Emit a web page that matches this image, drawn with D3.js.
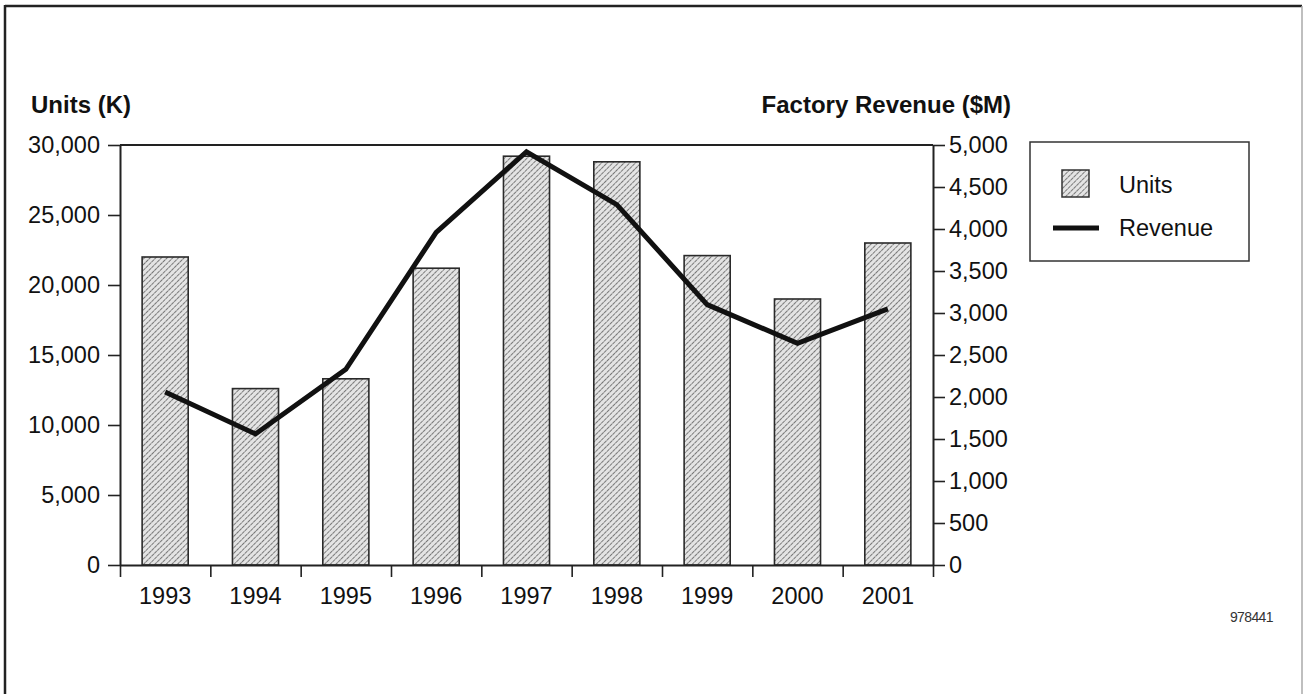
<!DOCTYPE html>
<html>
<head>
<meta charset="utf-8">
<script src="https://cdn.jsdelivr.net/npm/d3@7"></script>
<style>
  html, body { margin: 0; padding: 0; background: #fff; }
  svg { display: block; font-family: "Liberation Sans", Arial, Helvetica, sans-serif; }
</style>
</head>
<body>
<svg id="chart" width="1304" height="694"></svg>
<script>
const years = ["1993","1994","1995","1996","1997","1998","1999","2000","2001"];
const units = [22000, 12600, 13300, 21200, 29200, 28800, 22100, 19000, 23000];
const revenue = [2060, 1560, 2330, 3960, 4920, 4290, 3100, 2640, 3050];
const unitTicks = [0, 5000, 10000, 15000, 20000, 25000, 30000];
const revenueTicks = [0, 500, 1000, 1500, 2000, 2500, 3000, 3500, 4000, 4500, 5000];
const leftTitle = "Units (K)";
const rightTitle = "Factory Revenue ($M)";
const legendLabels = ["Units", "Revenue"];
const docCode = "978441";

const svg = d3.select("#chart");
const FS = 23.5;
const L = 120, R = 933, T = 145, B = 565;

// Outer frame
svg.append("line").attr("x1", 5).attr("y1", 6).attr("x2", 1302).attr("y2", 6)
  .attr("stroke", "#222").attr("stroke-width", 2.5);
svg.append("line").attr("x1", 5).attr("y1", 5).attr("x2", 5).attr("y2", 694)
  .attr("stroke", "#222").attr("stroke-width", 2.5);
svg.append("line").attr("x1", 1302).attr("y1", 6).attr("x2", 1302).attr("y2", 694)
  .attr("stroke", "#aaa").attr("stroke-width", 1.5);

// Hatch pattern
const defs = svg.append("defs");
const pat = defs.append("pattern").attr("id", "hatch")
  .attr("patternUnits", "userSpaceOnUse").attr("width", 4).attr("height", 4)
  .attr("patternTransform", "rotate(45)");
pat.append("rect").attr("width", 4).attr("height", 4).attr("fill", "#e4e4e4");
pat.append("line").attr("x1", 0).attr("y1", 0).attr("x2", 0).attr("y2", 4)
  .attr("stroke", "#555").attr("stroke-width", 1.5).attr("stroke-dasharray", "2.4,0.6");

// Scales
const x = d3.scaleBand().domain(years).range([L, R]).paddingInner(0.49).paddingOuter(0.245);
const xEdge = d3.scaleLinear().domain([0, years.length]).range([L, R]);
const xCenter = d3.scaleBand().domain(years).range([L, R]).padding(0);
const yL = d3.scaleLinear().domain([0, 30000]).range([B, T]);
const yR = d3.scaleLinear().domain([0, 5000]).range([B, T]);

// Bars
svg.append("g").selectAll("rect").data(units).join("rect")
  .attr("x", (d, i) => x(years[i]))
  .attr("y", d => yL(d))
  .attr("width", x.bandwidth())
  .attr("height", d => yL(0) - yL(d))
  .attr("fill", "url(#hatch)")
  .attr("stroke", "#2a2a2a").attr("stroke-width", 1.6);

// Plot top border
svg.append("line").attr("x1", L).attr("x2", R).attr("y1", T).attr("y2", T)
  .attr("stroke", "#222").attr("stroke-width", 2);

const fmt = d3.format(",");

// Left axis
const gL = svg.append("g").attr("transform", `translate(${L},0)`)
  .call(d3.axisLeft(yL).tickValues(unitTicks).tickFormat(fmt).tickSize(12).tickPadding(8).tickSizeOuter(0));
// Right axis
const gR = svg.append("g").attr("transform", `translate(${R},0)`)
  .call(d3.axisRight(yR).tickValues(revenueTicks).tickFormat(fmt).tickSize(12).tickPadding(4).tickSizeOuter(0));
// Bottom axis ticks (edges)
const gB = svg.append("g").attr("transform", `translate(0,${B})`)
  .call(d3.axisBottom(xEdge).tickValues(d3.range(years.length + 1)).tickFormat("").tickSize(12).tickSizeOuter(0));
// Bottom labels (centers)
const gBL = svg.append("g").attr("transform", `translate(0,${B})`)
  .call(d3.axisBottom(xCenter).tickSize(0).tickPadding(22));
gBL.select(".domain").remove();

[gL, gR, gB, gBL].forEach(g => {
  g.selectAll(".domain").attr("stroke", "#222").attr("stroke-width", 2);
  g.selectAll(".tick line").attr("stroke", "#222").attr("stroke-width", 1.6);
  g.selectAll("text").attr("font-size", FS).attr("fill", "#111")
    .attr("font-family", "'Liberation Sans', Arial, Helvetica, sans-serif");
});

// Revenue line
const line = d3.line()
  .x((d, i) => xCenter(years[i]) + xCenter.bandwidth() / 2)
  .y(d => yR(d));
svg.append("path").datum(revenue).attr("d", line)
  .attr("fill", "none").attr("stroke", "#111").attr("stroke-width", 5)
  .attr("stroke-linejoin", "miter");

// Axis titles
svg.append("text").attr("x", 31).attr("y", 113).text(leftTitle)
  .attr("font-size", 24).attr("font-weight", "bold").attr("fill", "#111");
svg.append("text").attr("x", 1011).attr("y", 113).attr("text-anchor", "end").text(rightTitle)
  .attr("font-size", 24).attr("font-weight", "bold").attr("fill", "#111");

// Legend
const lg = svg.append("g");
lg.append("rect").attr("x", 1030).attr("y", 142).attr("width", 219).attr("height", 119)
  .attr("fill", "#fff").attr("stroke", "#333").attr("stroke-width", 1.5);
lg.append("rect").attr("x", 1062).attr("y", 170).attr("width", 27).attr("height", 27)
  .attr("fill", "url(#hatch)").attr("stroke", "#333").attr("stroke-width", 1.5);
lg.append("line").attr("x1", 1053).attr("x2", 1099).attr("y1", 228).attr("y2", 228)
  .attr("stroke", "#111").attr("stroke-width", 5);
lg.selectAll("text.lbl").data(legendLabels).join("text").attr("class", "lbl")
  .attr("x", 1119).attr("y", (d, i) => i === 0 ? 193 : 236)
  .attr("font-size", FS).attr("fill", "#111").text(d => d);

// Document code
svg.append("text").attr("x", 1273).attr("y", 622).attr("text-anchor", "end")
  .attr("font-size", 14).attr("letter-spacing", -0.6).attr("fill", "#333").text(docCode);
</script>
</body>
</html>
